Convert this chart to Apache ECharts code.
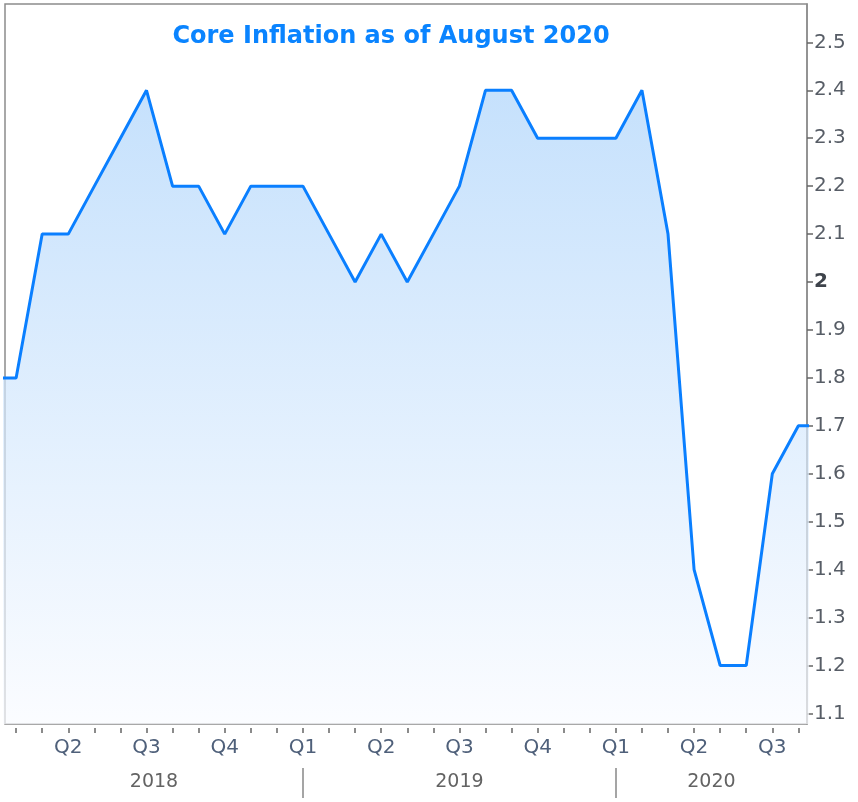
<!DOCTYPE html>
<html>
<head>
<meta charset="utf-8">
<script src="https://cdn.jsdelivr.net/npm/echarts@6/dist/echarts.min.js"></script>
<style>
  html, body { margin: 0; padding: 0; background: #fff; }
  #chart { width: 858px; height: 802px; }
</style>
</head>
<body>
<div id="chart"></div>
<script>
// month index 0 = Jan 2018
const monthIndex = [0,1,2,3,4,5,6,7,8,9,10,11,12,13,14,15,16,17,18,19,20,21,22,23,24,25,26,27,28,29,30,31,32];
const coreCpi = [1.8,1.8,2.1,2.1,2.2,2.3,2.4,2.2,2.2,2.1,2.2,2.2,2.2,2.1,2.0,2.1,2.0,2.1,2.2,2.4,2.4,2.3,2.3,2.3,2.3,2.4,2.1,1.4,1.2,1.2,1.6,1.7,1.7];
const monthTicks = [1,2,3,4,5,6,7,8,9,10,11,12,13,14,15,16,17,18,19,20,21,22,23,24,25,26,27,28,29,30,31];
const quarterTicks = [3,6,9,12,15,18,21,24,27,30];
const yearBreaks = [12, 24];
const years = ["2018", "2019", "2020"];
const yTicks = [1.1,1.2,1.3,1.4,1.5,1.6,1.7,1.8,1.9,2,2.1,2.2,2.3,2.4,2.5];

const X_MIN = 0.574, X_MAX = 31.33;
const yearCenters = [(X_MIN + 12) / 2, 18, (24 + X_MAX) / 2];

const font = "'DejaVu Sans', Verdana, sans-serif";
const chart = echarts.init(document.getElementById("chart"));

chart.setOption({
  animation: false,
  backgroundColor: "#fff",
  title: {
    text: "Core Inflation as of August 2020",
    left: 386,
    top: 20,
    textAlign: "center",
    textStyle: { color: "#0a84ff", fontSize: 24, fontWeight: "bold", fontFamily: font },
  },
  grid: {
    left: 5, right: 51, top: 4, bottom: 78,
    show: true, borderColor: "#8c8c8c", borderWidth: 1.5,
  },
  xAxis: [
    {
      type: "value",
      min: X_MIN,
      max: X_MAX,
      offset: 4,
      axisLine: { show: false },
      splitLine: { show: false },
      axisTick: { show: true, length: 5, customValues: monthTicks, lineStyle: { color: "#666", width: 1.5 } },
      axisLabel: {
        customValues: quarterTicks,
        margin: 10,
        color: "#4f607a",
        fontSize: 20,
        fontFamily: font,
        formatter: (v) => "Q" + ((Math.round(v / 3) % 4) + 1),
      },
    },
    {
      type: "value",
      position: "bottom",
      min: X_MIN,
      max: X_MAX,
      offset: 44,
      axisLine: { show: false },
      splitLine: { show: false },
      axisTick: { show: true, length: 30, customValues: yearBreaks, lineStyle: { color: "#888", width: 1.5 } },
      axisLabel: {
        customValues: yearCenters,
        margin: 5,
        color: "#636363",
        fontSize: 19,
        fontFamily: font,
        formatter: (v) => years[yearCenters.findIndex((c) => Math.abs(c - v) < 0.01)],
      },
    },
  ],
  yAxis: {
    type: "value",
    position: "right",
    min: 1.078,
    max: 2.58,
    axisLine: { show: true, lineStyle: { color: "#8c8c8c", width: 1.5 } },
    splitLine: { show: false },
    axisTick: { show: true, length: 6, customValues: yTicks, lineStyle: { color: "#666", width: 1.5 } },
    axisLabel: {
      customValues: yTicks,
      margin: 7,
      color: "#575d66",
      fontSize: 20,
      fontFamily: font,
      formatter: (v) => (v === 2 ? "{b|2}" : String(v)),
      rich: { b: { fontWeight: "bold", color: "#3e434b", fontSize: 20, fontFamily: font } },
    },
  },
  series: [
    {
      type: "line",
      data: monthIndex.map((m, i) => [m, coreCpi[i]]),
      symbol: "none",
      clip: true,
      lineStyle: { color: "#0a7fff", width: 3 },
      areaStyle: {
        origin: "start",
        color: new echarts.graphic.LinearGradient(0, 0, 0, 1, [
          { offset: 0, color: "#add4fb" },
          { offset: 1, color: "#f9fbff" },
        ]),
      },
    },
  ],
});
</script>
</body>
</html>
